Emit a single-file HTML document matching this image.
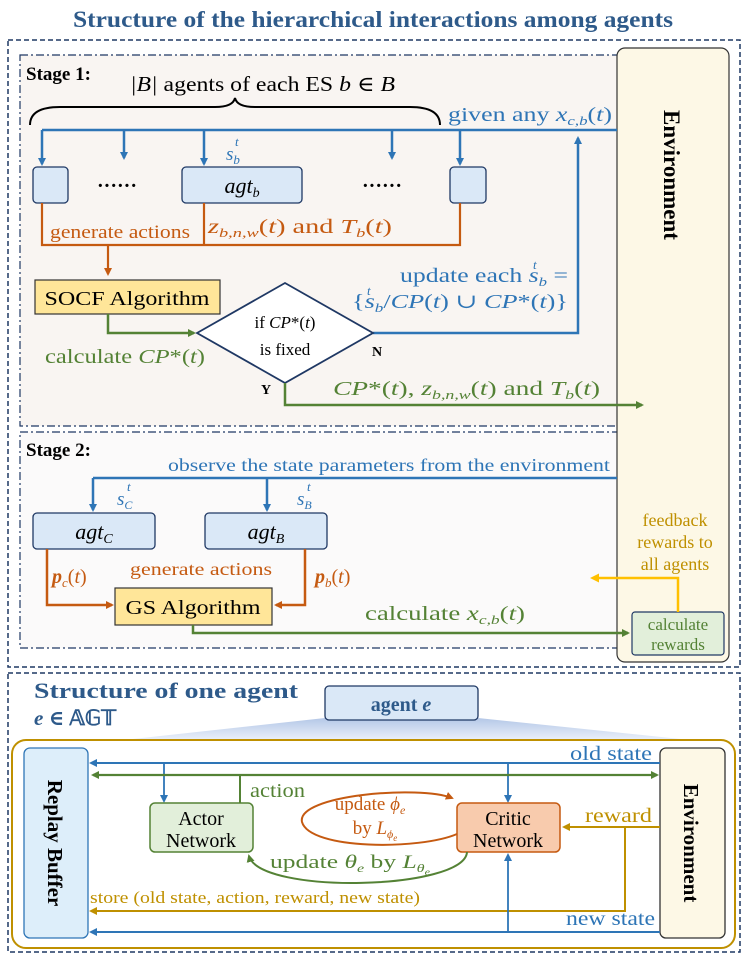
<!DOCTYPE html>
<html><head><meta charset="utf-8"><style>
html,body{margin:0;padding:0;background:#fff}
svg{display:block}
text{font-family:"Liberation Serif","DejaVu Serif",serif}
.i{font-style:italic}
</style></head><body>
<svg width="747" height="957" viewBox="0 0 747 957" xmlns="http://www.w3.org/2000/svg">
<defs>
<marker id="ab" markerWidth="8" markerHeight="8" refX="6" refY="4" orient="auto" markerUnits="userSpaceOnUse"><path d="M0,0 L8,4 L0,8 z" fill="#2e75b6"/></marker>
<marker id="ao" markerWidth="8" markerHeight="8" refX="6" refY="4" orient="auto" markerUnits="userSpaceOnUse"><path d="M0,0 L8,4 L0,8 z" fill="#c55a11"/></marker>
<marker id="ag" markerWidth="8" markerHeight="8" refX="6" refY="4" orient="auto" markerUnits="userSpaceOnUse"><path d="M0,0 L8,4 L0,8 z" fill="#548235"/></marker>
<marker id="agr" markerWidth="8" markerHeight="8" refX="2" refY="4" orient="auto" markerUnits="userSpaceOnUse"><path d="M8,0 L0,4 L8,8 z" fill="#548235"/></marker>
<marker id="ay" markerWidth="9" markerHeight="9" refX="6" refY="4.5" orient="auto" markerUnits="userSpaceOnUse"><path d="M0,0 L9,4.5 L0,9 z" fill="#ffc000"/></marker>
<marker id="ak" markerWidth="8" markerHeight="8" refX="6" refY="4" orient="auto" markerUnits="userSpaceOnUse"><path d="M0,0 L8,4 L0,8 z" fill="#bf9000"/></marker>
<linearGradient id="tr" x1="0" y1="0" x2="0" y2="1"><stop offset="0" stop-color="#b4c7e7"/><stop offset="1" stop-color="#eef3fb"/></linearGradient>
</defs>

<text x="373" y="27" text-anchor="middle" font-size="23" font-weight="bold" fill="#2e5a8a" textLength="600" lengthAdjust="spacingAndGlyphs">Structure of the hierarchical interactions among agents</text>

<rect x="8" y="40" width="732" height="627" fill="none" stroke="#1f3864" stroke-width="1.5" stroke-dasharray="5,3"/>
<rect x="20" y="55" width="600" height="371" fill="#f9f5f2" stroke="#1f3864" stroke-width="1.2" stroke-dasharray="8,3,2,3"/>
<rect x="20" y="432" width="600" height="216" fill="#fbfafa" stroke="#1f3864" stroke-width="1.2" stroke-dasharray="8,3,2,3"/>
<rect x="617" y="48" width="112" height="614" rx="8" fill="#fdf8e6" stroke="#333" stroke-width="1.2"/>
<text transform="translate(664,175) rotate(90)" text-anchor="middle" font-size="23" font-weight="bold" fill="#000">Environment</text>

<!-- Stage1 -->
<text x="26" y="80" font-size="19" font-weight="bold">Stage 1:</text>
<text x="130" y="91" font-size="21" textLength="265" lengthAdjust="spacingAndGlyphs"><tspan class="i">|B|</tspan> agents of each ES <tspan class="i">b</tspan> ∈ <tspan class="i">B</tspan></text>
<path d="M30,125 Q30,107 60,107 L215,107 Q233,107 235,98 Q237,107 255,107 L410,107 Q440,107 440,125" fill="none" stroke="#000" stroke-width="2"/>
<text x="448" y="121" font-size="20" fill="#2e75b6" textLength="164" lengthAdjust="spacingAndGlyphs">given any <tspan class="i">x</tspan><tspan class="i" font-size="13" dy="4">c,b</tspan><tspan dy="-4">(</tspan><tspan class="i">t</tspan>)</text>
<path d="M617,130 L42,130" stroke="#2e75b6" stroke-width="2.5" fill="none"/>
<g stroke="#2e75b6" stroke-width="2.5" fill="none" marker-end="url(#ab)">
<path d="M42,130 V164"/><path d="M124,130 V158"/><path d="M204,130 V164"/><path d="M392,130 V158"/><path d="M460,130 V164"/>
<path d="M373,333 H578 V138"/>
</g>
<text x="226" y="160" font-size="19" fill="#2e75b6" class="i">s<tspan font-size="13" dy="4">b</tspan></text>
<text x="235" y="146" font-size="13" fill="#2e75b6" class="i">t</text>
<rect x="33" y="167" width="35" height="36" rx="4" fill="#dae8f7" stroke="#1f3864" stroke-width="1.3"/>
<rect x="182" y="167" width="120" height="36" rx="4" fill="#dae8f7" stroke="#1f3864" stroke-width="1.3"/>
<rect x="450" y="167" width="36" height="36" rx="4" fill="#dae8f7" stroke="#1f3864" stroke-width="1.3"/>
<text x="242" y="193" font-size="22" text-anchor="middle" class="i">agt<tspan font-size="14" dy="4">b</tspan></text>
<text x="97" y="192" font-size="20" font-weight="bold">······</text>
<text x="362" y="192" font-size="20" font-weight="bold">······</text>
<g stroke="#c55a11" stroke-width="2.2" fill="none">
<path d="M42,203 V245 H460 V203"/><path d="M204,203 V245"/>
<path d="M108,245 V274" marker-end="url(#ao)"/>
</g>
<text x="50" y="238" font-size="19" fill="#c55a11" textLength="140" lengthAdjust="spacingAndGlyphs">generate actions</text>
<text x="208" y="233" font-size="20" fill="#c55a11" textLength="184" lengthAdjust="spacingAndGlyphs"><tspan class="i">z</tspan><tspan class="i" font-size="13" dy="4">b,n,w</tspan><tspan dy="-4">(</tspan><tspan class="i">t</tspan>) and <tspan class="i">T</tspan><tspan class="i" font-size="13" dy="4">b</tspan><tspan dy="-4">(</tspan><tspan class="i">t</tspan>)</text>
<rect x="35" y="280" width="185" height="34" fill="#ffe699" stroke="#333" stroke-width="1.2"/>
<text x="127" y="305" font-size="20" text-anchor="middle" textLength="165" lengthAdjust="spacingAndGlyphs">SOCF Algorithm</text>
<path d="M108,314 V333 H194" stroke="#548235" stroke-width="2.5" fill="none" marker-end="url(#ag)"/>
<text x="45" y="363" font-size="20" fill="#548235" textLength="160" lengthAdjust="spacingAndGlyphs">calculate <tspan class="i">CP</tspan>*(<tspan class="i">t</tspan>)</text>
<path d="M197,333 L285,283 L373,333 L285,383 Z" fill="#fff" stroke="#1f3864" stroke-width="1.8"/>
<text x="285" y="328" font-size="17" text-anchor="middle">if <tspan class="i">CP</tspan>*(<tspan class="i">t</tspan>)</text>
<text x="285" y="355" font-size="17" text-anchor="middle">is fixed</text>
<text x="372" y="356" font-size="14" font-weight="bold">N</text>
<text x="261" y="394" font-size="14" font-weight="bold">Y</text>
<text x="400" y="282" font-size="20" fill="#2e75b6" textLength="168" lengthAdjust="spacingAndGlyphs">update each <tspan class="i">s</tspan><tspan class="i" font-size="13" dy="4">b</tspan><tspan dy="-4"> =</tspan></text>
<text x="533" y="269" font-size="13" fill="#2e75b6" class="i">t</text>
<text x="352" y="308" font-size="20" fill="#2e75b6" textLength="216" lengthAdjust="spacingAndGlyphs">{<tspan class="i">s</tspan><tspan class="i" font-size="13" dy="4">b</tspan><tspan dy="-4">/</tspan><tspan class="i">CP</tspan>(<tspan class="i">t</tspan>) ∪ <tspan class="i">CP</tspan>*(<tspan class="i">t</tspan>)}</text>
<text x="367" y="295" font-size="13" fill="#2e75b6" class="i">t</text>
<path d="M285,383 V405 H642" stroke="#548235" stroke-width="2.5" fill="none" marker-end="url(#ag)"/>
<text x="333" y="395" font-size="20" fill="#548235" textLength="267" lengthAdjust="spacingAndGlyphs"><tspan class="i">CP</tspan>*(<tspan class="i">t</tspan>), <tspan class="i">z</tspan><tspan class="i" font-size="13" dy="4">b,n,w</tspan><tspan dy="-4">(</tspan><tspan class="i">t</tspan>) and <tspan class="i">T</tspan><tspan class="i" font-size="13" dy="4">b</tspan><tspan dy="-4">(</tspan><tspan class="i">t</tspan>)</text>

<!-- Stage2 -->
<text x="26" y="456" font-size="19" font-weight="bold">Stage 2:</text>
<text x="168" y="471" font-size="18" fill="#2e75b6" textLength="442" lengthAdjust="spacingAndGlyphs">observe the state parameters from the environment</text>
<path d="M617,478 H93" stroke="#2e75b6" stroke-width="2.5" fill="none"/>
<path d="M93,478 V510" stroke="#2e75b6" stroke-width="2.5" fill="none" marker-end="url(#ab)"/>
<path d="M267,478 V510" stroke="#2e75b6" stroke-width="2.5" fill="none" marker-end="url(#ab)"/>
<text x="117" y="505" font-size="19" fill="#2e75b6" class="i">s<tspan font-size="12" dy="4">C</tspan></text>
<text x="127" y="491" font-size="13" fill="#2e75b6" class="i">t</text>
<text x="297" y="505" font-size="19" fill="#2e75b6" class="i">s<tspan font-size="12" dy="4">B</tspan></text>
<text x="307" y="491" font-size="13" fill="#2e75b6" class="i">t</text>
<rect x="33" y="513" width="122" height="36" rx="4" fill="#dae8f7" stroke="#1f3864" stroke-width="1.3"/>
<rect x="205" y="513" width="122" height="36" rx="4" fill="#dae8f7" stroke="#1f3864" stroke-width="1.3"/>
<text x="94" y="539" font-size="22" text-anchor="middle" class="i">agt<tspan font-size="14" dy="4">C</tspan></text>
<text x="266" y="539" font-size="22" text-anchor="middle" class="i">agt<tspan font-size="14" dy="4">B</tspan></text>
<path d="M47,549 V605 H112" stroke="#c55a11" stroke-width="2.5" fill="none" marker-end="url(#ao)"/>
<path d="M305,549 V605 H276" stroke="#c55a11" stroke-width="2.5" fill="none" marker-end="url(#ao)"/>
<text x="52" y="583" font-size="20" fill="#c55a11"><tspan font-weight="bold" class="i">p</tspan><tspan class="i" font-size="13" dy="4">c</tspan><tspan dy="-4">(</tspan><tspan class="i">t</tspan>)</text>
<text x="130" y="575" font-size="18" fill="#c55a11" textLength="142" lengthAdjust="spacingAndGlyphs">generate actions</text>
<text x="315" y="583" font-size="20" fill="#c55a11"><tspan font-weight="bold" class="i">p</tspan><tspan class="i" font-size="13" dy="4">b</tspan><tspan dy="-4">(</tspan><tspan class="i">t</tspan>)</text>
<rect x="115" y="588" width="157" height="37" fill="#ffe699" stroke="#333" stroke-width="1.2"/>
<text x="193" y="614" font-size="20" text-anchor="middle" textLength="135" lengthAdjust="spacingAndGlyphs">GS Algorithm</text>
<path d="M193,625 V633 H628" stroke="#548235" stroke-width="2.5" fill="none" marker-end="url(#ag)"/>
<text x="365" y="620" font-size="20" fill="#548235" textLength="160" lengthAdjust="spacingAndGlyphs">calculate  <tspan class="i">x</tspan><tspan class="i" font-size="13" dy="4">c,b</tspan><tspan dy="-4">(</tspan><tspan class="i">t</tspan>)</text>
<rect x="632" y="612" width="92" height="43" rx="3" fill="#e2efda" stroke="#1f3864" stroke-width="1.2"/>
<text x="678" y="630" font-size="17" text-anchor="middle" fill="#548235">calculate</text>
<text x="678" y="650" font-size="17" text-anchor="middle" fill="#548235">rewards</text>
<path d="M678,612 V578 H593" stroke="#ffc000" stroke-width="2.5" fill="none" marker-end="url(#ay)"/>
<text x="675" y="526" font-size="18" text-anchor="middle" fill="#bf9000">feedback</text>
<text x="675" y="548" font-size="18" text-anchor="middle" fill="#bf9000">rewards to</text>
<text x="675" y="570" font-size="18" text-anchor="middle" fill="#bf9000">all agents</text>

<!-- Bottom -->
<rect x="8" y="673" width="732" height="279" fill="none" stroke="#1f3864" stroke-width="1.5" stroke-dasharray="5,3"/>
<text x="34" y="698" font-size="22" font-weight="bold" fill="#2e5a8a" textLength="264" lengthAdjust="spacingAndGlyphs">Structure of one agent</text>
<text x="34" y="725" font-size="21" font-weight="bold" fill="#2e5a8a"><tspan class="i">e</tspan> ∈ 𝔸𝔾𝕋</text>
<path d="M325,718 L478,718 L700,741 L115,741 Z" fill="url(#tr)"/>
<rect x="325" y="686" width="153" height="34" rx="4" fill="#dae8f7" stroke="#1f3864" stroke-width="1.3"/>
<text x="401" y="711" font-size="20" font-weight="bold" text-anchor="middle" fill="#2e5a8a">agent <tspan class="i">e</tspan></text>
<rect x="12" y="740" width="723" height="208" rx="14" fill="#fff" stroke="#bf9000" stroke-width="2"/>
<rect x="24" y="748" width="64" height="190" rx="6" fill="#ddeefa" stroke="#2e75b6" stroke-width="1.3"/>
<text transform="translate(48,843) rotate(90)" text-anchor="middle" font-size="21" font-weight="bold">Replay  Buffer</text>
<rect x="660" y="748" width="65" height="190" rx="6" fill="#fdf8e6" stroke="#333" stroke-width="1.3"/>
<text transform="translate(684,843) rotate(90)" text-anchor="middle" font-size="21" font-weight="bold">Environment</text>

<path d="M660,763 H91" stroke="#2e75b6" stroke-width="2" fill="none" marker-end="url(#ab)"/>
<text x="570" y="760" font-size="20" fill="#2e75b6" textLength="82" lengthAdjust="spacingAndGlyphs">old state</text>
<path d="M164,763 V801" stroke="#2e75b6" stroke-width="1.8" fill="none" marker-end="url(#ab)"/>
<path d="M508,763 V801" stroke="#2e75b6" stroke-width="1.8" fill="none" marker-end="url(#ab)"/>
<path d="M93,775 H657" stroke="#548235" stroke-width="2.2" fill="none" marker-start="url(#agr)" marker-end="url(#ag)"/>
<path d="M240,803 V775" stroke="#548235" stroke-width="2" fill="none"/>
<text x="250" y="797" font-size="20" fill="#548235" textLength="55" lengthAdjust="spacingAndGlyphs">action</text>
<rect x="150" y="803" width="103" height="49" rx="5" fill="#e2efda" stroke="#548235" stroke-width="1.5"/>
<text x="201" y="825" font-size="20" text-anchor="middle">Actor</text>
<text x="201" y="847" font-size="20" text-anchor="middle">Network</text>
<rect x="457" y="803" width="103" height="49" rx="5" fill="#f8cbad" stroke="#c55a11" stroke-width="1.5"/>
<text x="508" y="825" font-size="20" text-anchor="middle">Critic</text>
<text x="508" y="847" font-size="20" text-anchor="middle">Network</text>
<path d="M457,834 C420,850 310,850 302,822 C296,795 420,785 452,798" stroke="#c55a11" stroke-width="2" fill="none" marker-end="url(#ao)"/>
<text x="370" y="810" font-size="19" text-anchor="middle" fill="#c55a11">update <tspan class="i">ϕ</tspan><tspan class="i" font-size="12" dy="4">e</tspan></text>
<text x="375" y="834" font-size="19" text-anchor="middle" fill="#c55a11">by <tspan class="i">L</tspan><tspan class="i" font-size="12" dy="4">ϕ</tspan><tspan class="i" font-size="9" dy="3">e</tspan></text>
<path d="M467,852 C465,890 260,895 249,856" stroke="#548235" stroke-width="2" fill="none" marker-end="url(#ag)"/>
<text x="270" y="868" font-size="19" fill="#548235" textLength="160" lengthAdjust="spacingAndGlyphs">update <tspan class="i">θ</tspan><tspan class="i" font-size="12" dy="4">e</tspan><tspan dy="-4"> by </tspan><tspan class="i">L</tspan><tspan class="i" font-size="12" dy="4">θ</tspan><tspan class="i" font-size="9" dy="3">e</tspan></text>
<path d="M660,827 H564" stroke="#bf9000" stroke-width="2" fill="none" marker-end="url(#ak)"/>
<text x="585" y="822" font-size="20" fill="#bf9000" textLength="67" lengthAdjust="spacingAndGlyphs">reward</text>
<path d="M625,827 V911 H91" stroke="#bf9000" stroke-width="2" fill="none" marker-end="url(#ak)"/>
<text x="90" y="903" font-size="17" fill="#bf9000" textLength="330" lengthAdjust="spacingAndGlyphs">store (old state, action, reward, new state)</text>
<path d="M660,932 H91" stroke="#2e75b6" stroke-width="2" fill="none" marker-end="url(#ab)"/>
<path d="M508,932 V855" stroke="#2e75b6" stroke-width="1.8" fill="none" marker-end="url(#ab)"/>
<text x="566" y="925" font-size="20" fill="#2e75b6" textLength="89" lengthAdjust="spacingAndGlyphs">new state</text>
</svg>
</body></html>
